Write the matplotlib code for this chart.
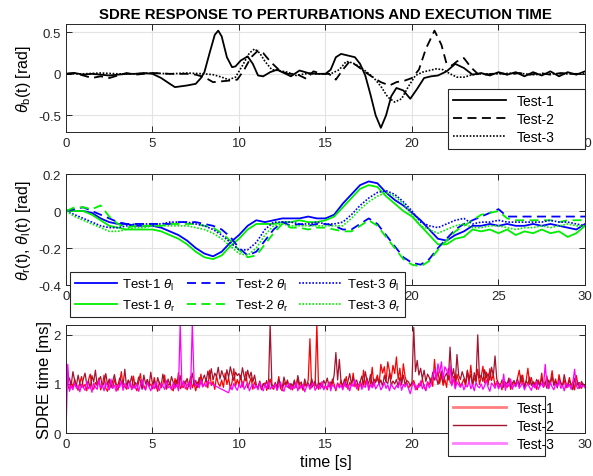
import matplotlib
matplotlib.use("Agg")
import matplotlib.pyplot as plt
from matplotlib.lines import Line2D
import numpy as np

plt.rcParams['font.family'] = ['Liberation Sans', 'DejaVu Sans']
plt.rcParams['mathtext.fontset'] = 'custom'
plt.rcParams['mathtext.rm'] = 'Liberation Sans'
plt.rcParams['mathtext.it'] = 'Liberation Sans:italic'
plt.rcParams['axes.linewidth'] = 0.7

# ---- panel 1: body angle theta_b (rad) ----
t1_b = [0, 0.5, 1, 1.5, 2, 2.5, 3, 3.5, 4, 4.5,
        5, 5.5, 6, 6.3, 7, 7.5, 7.8, 8.0, 8.3, 8.6,
        8.8, 9.0, 9.3, 9.6, 9.8, 10.1, 10.5, 10.8, 11.1, 11.4,
        11.8, 12.2, 12.6, 13.0, 13.5, 14.0, 14.5, 15.0, 15.3, 15.6,
        15.9, 16.3, 16.7, 17.0, 17.3, 17.6, 17.9, 18.2, 18.5, 18.8,
        19.1, 19.5, 19.9, 20.3, 20.7, 21.1, 21.5, 22.0, 22.5, 23.0,
        23.5, 24, 24.5, 25, 25.5, 26, 26.5, 27, 27.5, 28,
        28.5, 29, 29.5, 30]
v1_b = [0, 0.01, -0.01, 0, -0.01, -0.02, -0.01, 0, 0, 0.01,
        0, -0.05, -0.12, -0.16, -0.14, -0.12, -0.05, 0.02, 0.25, 0.47,
        0.52, 0.45, 0.2, 0.08, 0.09, 0.16, 0.21, 0.12, -0.02, -0.03,
        0.02, 0.05, 0.01, -0.03, 0.04, 0.01, 0.0, 0.0, 0.05, 0.2,
        0.24, 0.22, 0.2, 0.12, -0.02, -0.25, -0.5, -0.65, -0.5, -0.27,
        -0.17, -0.2, -0.3, -0.18, -0.05, -0.03, -0.02, 0.03, 0.12, 0.07,
        -0.01, 0.01, -0.02, 0.02, -0.01, 0.02, -0.03, 0.02, -0.02, 0.03,
        -0.03, 0.02, -0.01, 0.03]

t2_b = [0, 0.5, 1, 1.5, 2, 2.5, 3, 3.5, 4, 5,
        6, 7, 7.5, 8, 8.5, 9, 9.5, 9.9, 10.3, 10.7,
        11.1, 11.4, 11.8, 12.3, 12.8, 13.3, 13.9, 14.3, 14.8, 15.2,
        15.6, 16.0, 16.4, 16.8, 17.3, 17.8, 18.2, 18.7, 19.1, 19.6,
        20.0, 20.4, 20.8, 21.3, 21.7, 22.0, 22.3, 22.6, 23.0, 23.4,
        23.8, 24.3, 25, 25.6, 26.2, 26.8, 27.4, 28, 28.6, 29.2,
        30]
v2_b = [0, 0.01, -0.02, -0.05, -0.03, -0.05, -0.02, 0.01, -0.01, 0.01,
        0, 0, -0.01, -0.04, -0.1, -0.09, -0.08, -0.07, 0.05, 0.2,
        0.28, 0.25, 0.15, 0.05, 0.0, 0.0, -0.06, 0.03, 0.0, 0.0,
        -0.07, 0.05, 0.15, 0.1, 0.02, -0.05, -0.1, -0.14, -0.1, -0.08,
        -0.05, 0.05, 0.3, 0.52, 0.35, 0.12, 0.1, 0.15, 0.19, 0.08,
        0.0, -0.01, 0.01, -0.01, 0.01, -0.01, 0.01, -0.01, 0.01, 0.0,
        0.0]

t3_b = [0, 1, 2, 3, 4, 5, 6, 7, 8, 8.5,
        9, 9.4, 9.8, 10.2, 10.6, 10.9, 11.2, 11.5, 11.9, 12.3,
        12.8, 13.3, 13.8, 14.3, 14.8, 15.3, 15.8, 16.2, 16.6, 17.0,
        17.4, 17.8, 18.2, 18.6, 19.0, 19.4, 19.8, 20.2, 20.6, 21.0,
        21.4, 21.8, 22.2, 22.6, 23.0, 23.5, 24, 25, 26, 27,
        28, 29, 30]
v3_b = [0, 0, 0.01, 0, 0, 0.01, 0, 0.01, 0, -0.01,
        -0.04, -0.07, -0.04, 0.1, 0.25, 0.3, 0.25, 0.15, 0.05, 0.04,
        0.02, -0.02, 0.0, 0.0, 0.0, 0.0, 0.05, 0.15, 0.13, 0.08,
        0.02, -0.05, -0.15, -0.28, -0.34, -0.3, -0.15, -0.02, 0.02, 0.04,
        0.06, 0.05, 0.0, -0.04, -0.04, -0.01, 0.0, 0.0, 0.01, -0.01,
        0.0, 0.0, 0.0]

# ---- panel 2: wheel angles theta_l / theta_r (rad), sampled every 0.5 s ----
t_w = np.arange(61) * 0.5
t1_l = [0, 0, 0, -0.01, -0.04, -0.06, -0.07, -0.07, -0.08, -0.08,
        -0.08, -0.09, -0.11, -0.13, -0.16, -0.2, -0.23, -0.245, -0.22, -0.17,
        -0.13, -0.08, -0.05, -0.06, -0.05, -0.04, -0.04, -0.04, -0.03, -0.04,
        -0.04, -0.02, 0.04, 0.09, 0.14, 0.16, 0.15, 0.1, 0.06, 0.03,
        -0.01, -0.05, -0.1, -0.15, -0.16, -0.13, -0.11, -0.08, -0.08, -0.07,
        -0.08, -0.07, -0.08, -0.08, -0.07, -0.08, -0.07, -0.08, -0.09, -0.1,
        -0.07]
t1_r = [0, 0, 0, -0.02, -0.05, -0.08, -0.09, -0.1, -0.1, -0.1,
        -0.1, -0.11, -0.13, -0.15, -0.18, -0.22, -0.25, -0.26, -0.24, -0.19,
        -0.15, -0.1, -0.07, -0.07, -0.07, -0.06, -0.06, -0.05, -0.06, -0.06,
        -0.05, -0.03, 0.02, 0.07, 0.12, 0.14, 0.13, 0.08, 0.04, 0.0,
        -0.03, -0.08, -0.13, -0.18, -0.18, -0.15, -0.14, -0.1, -0.11, -0.1,
        -0.12, -0.1, -0.13, -0.11, -0.12, -0.1, -0.12, -0.11, -0.14, -0.12,
        -0.08]
t2_l = [0, 0.01, 0.02, 0, -0.02, -0.04, -0.06, -0.07, -0.07, -0.07,
        -0.07, -0.07, -0.07, -0.06, -0.06, -0.06, -0.07, -0.08, -0.1, -0.14,
        -0.2, -0.24, -0.22, -0.16, -0.1, -0.06, -0.08, -0.07, -0.08, -0.07,
        -0.07, -0.08, -0.1, -0.1, -0.07, -0.04, -0.07, -0.13, -0.19, -0.25,
        -0.28, -0.29, -0.26, -0.2, -0.15, -0.1, -0.07, -0.05, -0.03, -0.01,
        0.01, -0.03, -0.03, -0.03, -0.03, -0.03, -0.03, -0.03, -0.03, -0.03,
        -0.03]
t2_r = [0, 0.02, 0.02, 0.01, 0.03, -0.03, -0.07, -0.09, -0.08, -0.08,
        -0.08, -0.08, -0.07, -0.07, -0.07, -0.07, -0.08, -0.09, -0.12, -0.16,
        -0.21, -0.25, -0.24, -0.18, -0.12, -0.07, -0.09, -0.09, -0.1, -0.09,
        -0.09, -0.1, -0.11, -0.11, -0.08, -0.05, -0.08, -0.14, -0.2, -0.26,
        -0.29, -0.3, -0.27, -0.21, -0.16, -0.11, -0.08, -0.05, -0.02, -0.01,
        0.0, -0.04, -0.05, -0.05, -0.05, -0.05, -0.05, -0.06, -0.05, -0.05,
        -0.05]
t3_l = [0, -0.02, -0.04, -0.06, -0.08, -0.09, -0.09, -0.08, -0.07, -0.07,
        -0.07, -0.07, -0.06, -0.06, -0.06, -0.07, -0.08, -0.1, -0.13, -0.17,
        -0.21, -0.21, -0.17, -0.1, -0.06, -0.06, -0.06, -0.07, -0.07, -0.06,
        -0.07, -0.07, -0.06, -0.02, 0.03, 0.07, 0.1, 0.11, 0.09, 0.05,
        0.0, -0.06, -0.08, -0.09, -0.07, -0.05, -0.04, -0.07, -0.06, -0.06,
        -0.05, -0.06, -0.06, -0.06, -0.06, -0.06, -0.05, -0.06, -0.06, -0.07,
        -0.08]
t3_r = [0, -0.03, -0.05, -0.07, -0.09, -0.11, -0.11, -0.1, -0.09, -0.09,
        -0.08, -0.08, -0.08, -0.08, -0.08, -0.09, -0.1, -0.12, -0.15, -0.19,
        -0.23, -0.24, -0.2, -0.13, -0.08, -0.07, -0.08, -0.08, -0.08, -0.08,
        -0.08, -0.08, -0.08, -0.04, 0.01, 0.05, 0.08, 0.1, 0.08, 0.04,
        -0.02, -0.08, -0.1, -0.12, -0.1, -0.08, -0.07, -0.09, -0.09, -0.08,
        -0.08, -0.09, -0.1, -0.09, -0.09, -0.08, -0.09, -0.08, -0.07, -0.08,
        -0.08]

# ---- panel 3: SDRE execution time (hundredths of ms), sampled every 0.1 s ----
t_exec = np.arange(301) * 0.1
exec1 = [145, 98, 88, 105, 92, 110, 95, 87, 102, 115,
         93, 99, 86, 108, 120, 94, 89, 103, 97, 112,
         88, 96, 118, 91, 85, 104, 99, 92, 110, 95,
         87, 101, 125, 93, 96, 89, 107, 98, 91, 116,
         94, 86, 103, 121, 92, 97, 88, 109, 95, 100,
         90, 113, 96, 85, 104, 92, 99, 118, 89, 97,
         102, 91, 86, 111, 95, 123, 90, 98, 93, 106,
         88, 97, 115, 92, 101, 86, 104, 96, 120, 94,
         99, 110, 92, 128, 97, 105, 89, 116, 101, 95,
         108, 93, 122, 99, 112, 90, 104, 131, 96, 109,
         98, 118, 94, 107, 125, 92, 101, 113, 89, 104,
         95, 91, 106, 88, 99, 102, 87, 97, 110, 93,
         89, 100, 94, 115, 91, 86, 103, 96, 108, 92,
         97, 88, 105, 93, 112, 90, 99, 87, 101, 94,
         108, 192, 92, 99, 96, 222, 89, 102, 95, 91,
         97, 88, 104, 93, 110, 99, 86, 102, 95, 107,
         91, 98, 115, 89, 103, 96, 122, 94, 100, 87,
         105, 93, 128, 97, 112, 90, 101, 134, 95, 108,
         118, 99, 140, 122, 135, 104, 145, 126, 110, 138,
         121, 155, 109, 132, 98, 141, 115, 103, 92, 96,
         99, 107, 94, 88, 101, 96, 110, 93, 87, 104,
         98, 112, 95, 150, 108, 126, 101, 118, 97, 109,
         93, 131, 104, 99, 115, 92, 120, 106, 96, 102,
         110, 95, 125, 101, 138, 97, 112, 104, 130, 99,
         115, 136, 102, 124, 98, 131, 107, 119, 95, 105,
         92, 101, 88, 106, 97, 93, 110, 89, 99, 104,
         96, 112, 128, 101, 118, 94, 107, 132, 99, 113,
         95, 103, 89, 108, 97, 122, 93, 100, 116, 91,
         104, 127, 98, 110, 94, 119, 101, 96, 108, 92,
         99, 113, 94, 105, 88, 117, 97, 103, 91, 100,
         96]
exec2 = [95, 103, 112, 98, 125, 107, 96, 118, 101, 93,
         110, 122, 99, 106, 91, 117, 104, 128, 97, 108,
         115, 94, 103, 121, 99, 110, 92, 106, 119, 100,
         96, 112, 105, 98, 130, 94, 108, 101, 116, 92,
         103, 97, 114, 106, 89, 118, 100, 109, 95, 124,
         99, 107, 92, 113, 101, 96, 120, 104, 91, 110,
         98, 115, 103, 94, 108, 99, 117, 92, 106, 101,
         111, 95, 104, 122, 98, 107, 93, 113, 100, 109,
         118, 105, 126, 112, 131, 108, 122, 115, 134, 110,
         127, 116, 108, 129, 113, 135, 119, 107, 124, 117,
         121, 109, 133, 115, 106, 128, 112, 124, 104, 118,
         98, 92, 104, 89, 101, 95, 107, 90, 222, 99,
         94, 103, 88, 109, 97, 92, 114, 99, 105, 91,
         101, 95, 108, 93, 117, 99, 104, 89, 110, 96,
         102, 93, 111, 97, 106, 91, 103, 98, 94, 107,
         99, 112, 95, 104, 101, 118, 164, 108, 150, 103,
         97, 110, 94, 106, 121, 99, 113, 101, 108, 95,
         104, 116, 98, 125, 107, 101, 119, 96, 110, 103,
         112, 99, 108, 95, 117, 104, 101, 122, 97, 106,
         100, 109, 95, 113, 102, 118, 98, 107, 104, 96,
         104, 215, 125, 148, 118, 132, 110, 128, 105, 120,
         113, 101, 124, 108, 117, 99, 111, 126, 103, 115,
         122, 108, 175, 112, 131, 104, 160, 117, 109, 125,
         114, 102, 128, 110, 119, 97, 123, 106, 200, 112,
         118, 105, 129, 113, 121, 108, 134, 116, 157, 110,
         101, 96, 108, 93, 104, 99, 112, 95, 102, 107,
         98, 110, 95, 118, 103, 92, 106, 99, 114, 97,
         105, 93, 109, 101, 96, 112, 98, 104, 91, 108,
         100, 115, 97, 106, 92, 110, 103, 96, 119, 101,
         94, 107, 99, 88, 112, 96, 103, 91, 105, 98,
         95]
exec3 = [0, 140, 85, 96, 88, 102, 91, 97, 84, 99,
         93, 87, 105, 90, 96, 83, 101, 94, 89, 108,
         92, 98, 86, 103, 95, 88, 110, 91, 97, 85,
         99, 93, 106, 87, 101, 95, 90, 104, 88, 96,
         91, 100, 85, 97, 109, 92, 88, 103, 94, 86,
         98, 90, 104, 93, 87, 101, 96, 89, 107, 92,
         95, 88, 102, 91, 99, 86, 222, 94, 105, 90,
         97, 103, 89, 222, 110, 96, 100, 92, 108, 95,
         101, 94, 106, 102, None, None, None, None, None, None,
         None, None, None, None, 82, 96, 88, 101, 93, 87,
         99, 92, 105, 89, 96, 102, 86, 94, 100, 91,
         97, 88, 103, 93, 86, 99, 91, 105, 89, 95,
         92, 100, 87, 96, 104, 90, 85, 98, 93, 101,
         88, 95, 91, 103, 86, 97, 92, 99, 84, 94,
         100, 89, 96, 102, 87, 93, 98, 90, 105, 88,
         95, 91, 103, 86, 99, 94, 89, 101, 92, 97,
         88, 104, 93, 98, 86, 100, 95, 108, 90, 96,
         102, 89, 97, 93, 106, 87, 99, 92, 104, 90,
         96, 101, 88, 94, 103, 91, 98, 86, 100, 93,
         89, 97, 92, 105, 87, 99, 94, 101, 90, 80,
         95, 102, 88, 97, 93, 106, 90, 99, 86, 104,
         92, 98, 115, 130, 108, 141, 122, 145, 110, 135,
         128, 118, 138, 96, 112, 90, 104, 98, 93, 101,
         88, 97, 94, 106, 90, 99, 86, 103, 95, 92,
         100, 89, 96, 108, 93, 85, 102, 97, 91, 104,
         90, 98, 93, 120, 87, 101, 95, 110, 89, 99,
         94, 106, 91, 97, 102, 88, 96, 100, 93, 87,
         99, 92, 105, 89, 96, 101, 93, 140, 98, 90,
         103, 94, 88, 100, 95, 107, 91, 97, 86, 102,
         93, 99, 89, 104, 130, 96, 90, 101, 94, 97,
         92]

labels = ['Test-1', 'Test-2', 'Test-3']
grid_c = '#e3e3e3'
spine_c = '#262626'
leg_kw = dict(frameon=True, fancybox=False, framealpha=1, edgecolor=spine_c,
              borderaxespad=0)

fig = plt.figure(figsize=(5.93, 4.77), dpi=100)
ax1 = fig.add_axes([0.1113, 0.7212, 0.8752, 0.2264])
ax2 = fig.add_axes([0.1113, 0.4004, 0.8752, 0.2327])
ax3 = fig.add_axes([0.1113, 0.0901, 0.8752, 0.2264])

for ax in (ax1, ax2, ax3):
    ax.set_xlim(0, 30)
    ax.set_xticks([0, 5, 10, 15, 20, 25, 30])
    ax.grid(True, color=grid_c, linewidth=0.8)
    ax.set_axisbelow(True)
    ax.tick_params(direction='in', top=True, right=True, labelsize=9.5,
                   length=4, width=0.7, color=spine_c, labelcolor='#262626')
    for s in ax.spines.values():
        s.set_color(spine_c)

# panel 1
ax1.plot(t1_b, v1_b, color='k', lw=1.3, ls='-', label=labels[0])
ax1.plot(t2_b, v2_b, color='k', lw=1.3, ls=(0, (5, 3)), label=labels[1])
ax1.plot(t3_b, v3_b, color='k', lw=1.2, ls=(0, (1, 1)), label=labels[2])
ax1.set_ylim(-0.7, 0.6)
ax1.set_yticks([-0.5, 0, 0.5])
ax1.set_yticklabels(['-0.5', '0', '0.5'])
ax1.set_ylabel(r'$\theta_\mathrm{b}$(t) [rad]', fontsize=11.5)
ax1.set_title('SDRE RESPONSE TO PERTURBATIONS AND EXECUTION TIME',
              fontsize=10.8, fontweight='bold', pad=4)
leg1 = ax1.legend(loc='lower left', bbox_to_anchor=(0.736, -0.157, 0.264, 0.48),
                  mode='expand', labelspacing=0.3, borderpad=0.35,
                  handlelength=3.8, fontsize=10, **leg_kw)
leg1.get_frame().set_linewidth(0.8)

# panel 2
blue, green = '#0000ff', '#00ee00'
ax2.plot(t_w, t1_l, color=blue, lw=1.3, ls='-', label=r'Test-1 $\theta_\mathrm{l}$')
ax2.plot(t_w, t1_r, color=green, lw=1.3, ls='-', label=r'Test-1 $\theta_\mathrm{r}$')
ax2.plot(t_w, t2_l, color=blue, lw=1.3, ls=(0, (5, 3)), label=r'Test-2 $\theta_\mathrm{l}$')
ax2.plot(t_w, t2_r, color=green, lw=1.3, ls=(0, (5, 3)), label=r'Test-2 $\theta_\mathrm{r}$')
ax2.plot(t_w, t3_l, color=blue, lw=1.2, ls=(0, (1, 1)), label=r'Test-3 $\theta_\mathrm{l}$')
ax2.plot(t_w, t3_r, color=green, lw=1.2, ls=(0, (1, 1)), label=r'Test-3 $\theta_\mathrm{r}$')
ax2.set_ylim(-0.4, 0.2)
ax2.set_yticks([-0.4, -0.2, 0, 0.2])
ax2.set_yticklabels(['-0.4', '-0.2', '0', '0.2'])
# labels 5..15 sit under the legend box, as in the original
ax2.set_xticklabels(['0', '', '', '', '20', '25', '30'])
ax2.set_ylabel(r'$\theta_\mathrm{r}$(t), $\theta_\mathrm{l}$(t) [rad]', fontsize=11.5)
leg2 = ax2.legend(loc='lower left', bbox_to_anchor=(0.008, -0.29, 0.645, 0.43),
                  mode='expand', ncol=3, labelspacing=0.45, borderpad=0.35,
                  handlelength=3.2, handletextpad=0.4, columnspacing=0.5,
                  fontsize=9.5, **leg_kw)
leg2.get_frame().set_linewidth(0.8)

# panel 3
c1, c2, c3 = '#ff0000', '#a2142f', '#ff00ff'
e3 = np.array([np.nan if v is None else v for v in exec3], dtype=float)
keep = ~np.isnan(e3)
ax3.plot(t_exec, np.array(exec1) / 100, color=c1, lw=0.9)
ax3.plot(t_exec, np.array(exec2) / 100, color=c2, lw=0.9)
ax3.plot(t_exec[keep], e3[keep] / 100, color=c3, lw=0.9)
ax3.set_ylim(0, 2.2)
ax3.set_yticks([0, 1, 2])
ax3.set_ylabel('SDRE time [ms]', fontsize=12, labelpad=1)
ax3.set_xlabel('time [s]', fontsize=11.5, labelpad=3)
handles = [Line2D([], [], color='#ff7f7f', lw=2),
           Line2D([], [], color=c2, lw=1),
           Line2D([], [], color='#ff80ff', lw=2)]
leg3 = ax3.legend(handles, labels, loc='lower left',
                  bbox_to_anchor=(0.736, -0.213, 0.187, 0.49), mode='expand',
                  labelspacing=0.3, borderpad=0.35, handlelength=3.8,
                  fontsize=10, **leg_kw)
leg3.get_frame().set_linewidth(0.8)

fig.savefig('out.png', dpi=100)
